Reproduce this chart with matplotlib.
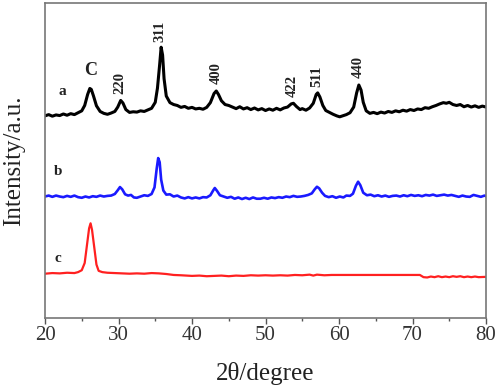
import matplotlib
matplotlib.use("Agg")
import matplotlib.pyplot as plt
from matplotlib.ticker import MultipleLocator

# XRD patterns, values (arbitrary intensity units)
two_theta_a = [20.0, 20.5, 21.0, 21.5, 22.0, 22.5, 23.0, 23.5, 24.0, 24.5, 25.0, 25.4, 25.8, 26.1,
               26.3, 26.6, 27.0, 27.5, 28.0, 28.5, 29.0, 29.5, 29.9, 30.3, 30.6, 31.0, 31.5, 32.0,
               32.5, 33.0, 33.5, 34.0, 34.5, 35.0, 35.3, 35.6, 35.8, 36.0, 36.2, 36.5, 37.0, 37.5,
               38.0, 38.5, 39.0, 39.5, 40.0, 40.5, 41.0, 41.5, 42.0, 42.5, 43.0, 43.3, 43.6, 44.0,
               44.5, 45.0, 45.5, 46.0, 46.5, 47.0, 47.5, 48.0, 48.5, 49.0, 49.5, 50.0, 50.5, 51.0,
               51.5, 52.0, 52.5, 53.0, 53.5, 53.8, 54.2, 54.7, 55.0, 55.5, 56.0, 56.5, 56.9, 57.1,
               57.4, 57.8, 58.2, 58.7, 59.2, 59.7, 60.1, 60.5, 61.0, 61.5, 62.0, 62.4, 62.7, 63.0,
               63.3, 63.7, 64.2, 64.7, 65.2, 65.7, 66.2, 66.7, 67.2, 67.7, 68.2, 68.7, 69.2, 69.7,
               70.2, 70.7, 71.2, 71.7, 72.2, 72.7, 73.2, 73.7, 74.2, 74.6, 75.0, 75.5, 76.0, 76.5,
               77.0, 77.5, 78.0, 78.5, 79.0, 79.5, 80.0]
intensity_a = [64.2, 64.6, 64.1, 64.5, 64.3, 64.8, 64.4, 64.9, 64.6, 65.2, 65.8, 67.5, 71.0, 72.9,
               72.6, 70.5, 67.4, 65.6, 65.0, 64.7, 65.1, 65.6, 67.0, 69.1, 68.3, 66.2, 65.3, 65.5,
               65.4, 65.8, 65.6, 66.1, 66.6, 68.5, 73.0, 80.5, 86.0, 83.5, 76.0, 70.5, 68.4, 67.8,
               67.5, 66.9, 67.2, 66.6, 66.9, 66.4, 66.6, 66.3, 66.9, 68.4, 71.3, 72.1, 71.0, 69.0,
               67.8, 67.5, 67.0, 66.5, 67.1, 66.4, 66.8, 66.2, 66.7, 66.1, 66.5, 65.9, 66.4, 66.0,
               66.6, 66.1, 66.7, 67.0, 68.0, 68.2, 67.2, 66.2, 66.5, 66.0, 66.7, 68.2, 71.0, 71.5,
               70.2, 67.5, 65.9, 65.3, 64.7, 64.2, 63.9, 64.2, 64.6, 65.2, 67.0, 71.5, 74.0, 72.4,
               68.5, 65.8, 65.0, 65.3, 64.9, 65.4, 65.1, 65.6, 65.3, 65.8, 65.5, 66.0, 65.7, 66.2,
               65.9, 66.4, 66.2, 66.8, 66.6, 67.1, 67.5, 68.0, 68.4, 68.2, 68.5, 67.8, 67.5, 67.8,
               67.1, 67.5, 67.0, 67.4, 66.9, 67.3, 67.0]

two_theta_b = [20.0, 20.5, 21.0, 21.5, 22.0, 22.5, 23.0, 23.5, 24.0, 24.5, 25.0, 25.5, 26.0, 26.5,
               27.0, 27.5, 28.0, 28.5, 29.0, 29.5, 29.9, 30.2, 30.5, 30.9, 31.3, 31.7, 32.1, 32.5,
               33.0, 33.5, 34.0, 34.5, 34.9, 35.2, 35.4, 35.6, 35.8, 36.1, 36.5, 37.0, 37.5, 38.0,
               38.5, 39.0, 39.5, 40.0, 40.5, 41.0, 41.5, 42.0, 42.5, 42.9, 43.1, 43.4, 43.8, 44.3,
               44.8, 45.3, 45.8, 46.3, 46.8, 47.3, 47.8, 48.3, 48.8, 49.3, 49.8, 50.3, 50.8, 51.3,
               51.8, 52.3, 52.8, 53.3, 53.8, 54.3, 54.8, 55.3, 55.8, 56.3, 56.7, 57.0, 57.3, 57.7,
               58.1, 58.6, 59.1, 59.6, 60.1, 60.6, 61.0, 61.5, 61.9, 62.3, 62.6, 62.9, 63.3, 63.8,
               64.3, 64.8, 65.3, 65.8, 66.3, 66.8, 67.3, 67.8, 68.3, 68.8, 69.3, 69.8, 70.3, 70.8,
               71.3, 71.8, 72.3, 72.8, 73.3, 73.8, 74.3, 74.8, 75.3, 75.8, 76.3, 76.8, 77.3, 77.8,
               78.3, 78.8, 79.3, 79.8, 80.0]
intensity_b = [38.6, 38.9, 38.5, 38.9, 38.6, 38.4, 38.8, 38.5, 38.9, 38.4, 38.2, 38.6, 38.3, 38.7,
               38.5, 38.9, 38.6, 38.8, 38.9, 39.4, 40.6, 41.6, 40.9, 39.3, 38.9, 39.1, 38.3, 38.2,
               38.6, 39.0, 38.8, 39.4, 41.5, 47.5, 50.8, 49.5, 44.0, 40.5, 39.2, 39.3, 38.6, 38.9,
               38.3, 38.0, 38.4, 38.0, 38.3, 38.0, 38.4, 38.3, 39.0, 40.6, 41.3, 40.4, 39.0, 38.6,
               38.2, 38.5, 37.9, 38.3, 37.8, 38.2, 37.8, 38.3, 37.9, 37.9, 38.2, 37.9, 38.3, 38.1,
               38.4, 38.2, 38.6, 38.4, 38.8, 38.5, 38.6, 38.8, 39.1, 39.6, 40.9, 41.7, 41.2, 39.8,
               38.8, 38.4, 38.7, 38.2, 38.6, 38.3, 38.9, 38.8, 39.5, 42.0, 43.3, 42.2, 39.8, 39.0,
               39.2, 38.7, 39.0, 38.6, 38.9, 38.5, 38.8, 38.9, 38.6, 39.0, 38.7, 39.1, 38.8, 39.0,
               38.7, 39.1, 38.9, 39.2, 38.8, 39.0, 39.2, 38.9, 39.1, 38.8, 38.5, 38.9, 38.6, 38.5,
               39.1, 38.8, 38.5, 38.9, 38.7]

two_theta_c = [20.0, 21.0, 22.0, 23.0, 24.0, 24.5, 25.0, 25.4, 25.7, 26.0, 26.2, 26.4, 26.7, 27.0,
               27.3, 27.8, 28.5, 29.5, 30.5, 31.5, 32.5, 33.5, 34.5, 35.5, 36.5, 37.5, 38.5, 40.0,
               41.0, 42.0, 43.0, 44.0, 45.0, 46.0, 47.0, 48.0, 49.0, 50.0, 51.0, 52.0, 53.0, 54.0,
               55.0, 56.0, 56.5, 57.0, 58.0, 59.0, 60.0, 62.0, 64.0, 66.0, 68.0, 70.0, 71.0, 71.5,
               72.0, 72.5, 73.0, 73.5, 74.0, 74.5, 75.0, 75.5, 76.0, 76.5, 77.0, 77.5, 78.0, 78.5,
               79.0, 80.0]
intensity_c = [14.1, 14.3, 14.2, 14.4, 14.3, 14.6, 15.2, 17.5, 23.0, 28.5, 30.1, 28.0, 22.5, 17.0,
               15.0, 14.6, 14.4, 14.3, 14.2, 14.1, 14.2, 14.1, 14.3, 14.2, 14.0, 13.7, 13.6, 13.4,
               13.5, 13.3, 13.4, 13.5, 13.3, 13.5, 13.4, 13.6, 13.5, 13.6, 13.5, 13.6, 13.5, 13.7,
               13.6, 13.8, 13.5, 13.8, 13.6, 13.7, 13.7, 13.7, 13.7, 13.7, 13.7, 13.7, 13.7, 13.0,
               12.9, 13.2, 13.0, 13.3, 13.0, 13.2, 13.0, 13.3, 13.1, 13.3, 13.0, 13.2, 13.0, 13.2,
               13.0, 13.1]

# peak labels: (text, 2theta, height)
peak_labels = ["C", "220", "311", "400", "422", "511", "440"]
peak_x = [26.2, 30.2, 35.6, 43.3, 53.7, 57.0, 62.6]
peak_y = [78.7, 74.6, 91.1, 77.8, 73.7, 76.8, 79.7]
peak_rot = [0, 90, 90, 90, 90, 90, 90]

curve_names = ["a", "b", "c"]
curve_name_x = [22.3, 21.8, 21.8]
curve_name_y = [71.8, 46.4, 19.0]

plt.rcParams['font.family'] = ['Liberation Serif', 'DejaVu Serif']

fig = plt.figure(figsize=(5.0, 3.87), dpi=100)
ax = fig.add_axes([0.09, 0.178, 0.882, 0.814])

ax.plot(two_theta_a, intensity_a, color='black', lw=2.2)
ax.plot(two_theta_b, intensity_b, color='#1a1aff', lw=1.9)
ax.plot(two_theta_c, intensity_c, color='#ff2020', lw=1.6)

for lab, x, y, r in zip(peak_labels, peak_x, peak_y, peak_rot):
    fs = 13 if lab == "C" else 10.5
    ax.text(x, y, lab, rotation=r, ha='center', va='center', fontsize=fs,
            fontweight='bold', color='#222222')

for lab, x, y in zip(curve_names, curve_name_x, curve_name_y):
    ax.text(x, y, lab, ha='center', va='center', fontsize=11, fontweight='bold',
            color='#222222')

ax.set_xlim(20, 80)
ax.set_ylim(0, 100)
ax.xaxis.set_major_locator(MultipleLocator(10))
ax.xaxis.set_minor_locator(MultipleLocator(5))
ax.set_yticks([])
ax.tick_params(axis='x', which='major', direction='out', length=4, width=1,
               colors='#555555', labelsize=15, labelcolor='#333333', pad=2)
ax.tick_params(axis='x', which='minor', direction='out', length=2.5, width=1,
               colors='#555555')
for s in ax.spines.values():
    s.set_color('#777777')
    s.set_linewidth(1.2)

ax.set_xlabel("2θ/degree", fontsize=18, color='#222222')
ax.set_ylabel("Intensity/a.u.", fontsize=18, color='#222222')
ax.xaxis.set_label_coords(0.5, -0.14)
ax.yaxis.set_label_coords(-0.045, 0.5)

fig.savefig("out.png", dpi=100)
